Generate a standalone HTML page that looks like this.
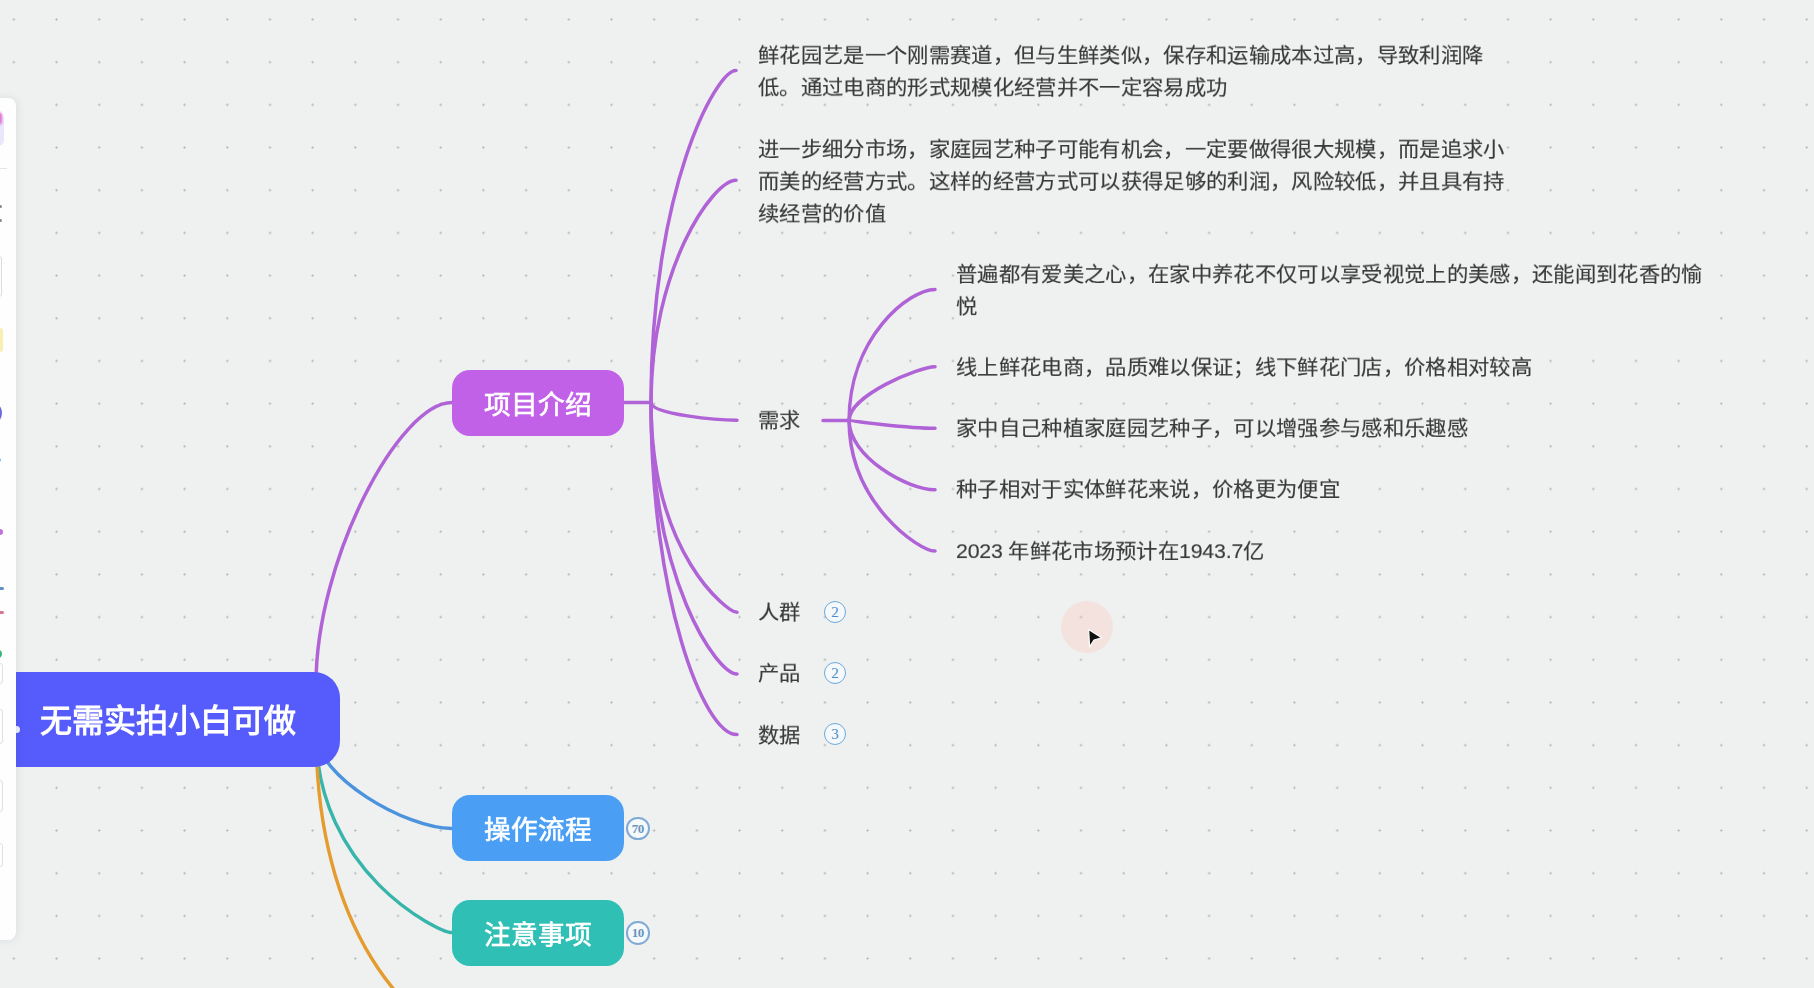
<!DOCTYPE html>
<html lang="zh-CN"><head><meta charset="utf-8">
<style>
html,body{margin:0;padding:0;}
body{width:1814px;height:988px;overflow:hidden;position:relative;background:#eff1f1;font-family:"Liberation Sans",sans-serif;}
#grid{position:absolute;left:0;top:0;width:1814px;height:988px;
 background-image:radial-gradient(circle at center,#b5b8b9 0,#b5b8b9 0.8px,rgba(185,188,189,0) 1.45px);
 background-size:42.7px 42.7px;background-position:-7.5px -1.9px;}
svg{position:absolute;left:0;top:0;}
.t{position:absolute;color:#3a3a3a;font-size:21.33px;line-height:34.78px;letter-spacing:0.33px;white-space:nowrap;background:#eff1f1;will-change:transform;transform:scaleY(0.92);transform-origin:0 0;-webkit-text-stroke:0.15px #3a3a3a;}
.node{position:absolute;color:#fff;text-align:center;white-space:nowrap;will-change:transform;}
.badge{position:absolute;width:20px;height:20px;border:1.8px solid #6ea8db;border-radius:50%;background:#f5f9fc;color:#4a8cc6;font-size:15px;line-height:20px;font-family:'Liberation Serif',serif;text-align:center;box-sizing:content-box;}
#tb{position:absolute;left:-20px;top:98px;width:36px;height:842px;background:#fdfefd;border-radius:8px;box-shadow:1px 0 9px rgba(40,50,70,0.10);}
</style></head>
<body>
<div id="grid"></div>
<svg width="1814" height="988" viewBox="0 0 1814 988" fill="none" stroke-linecap="round">
 <g stroke="#b063d6" stroke-width="3.5">
  <path d="M316 684 C316 560.1 399 402.5 452 402.5"/>
  <path d="M622 402.5 L651 402.5"/>
  <path d="M651 402.5 C651 189.3 716 70.5 736 70.5"/>
  <path d="M651 402.5 C651 268.9 712.7 180.3 736 180.3"/>
  <path d="M651 402.5 C651 414.6 719.6 420.2 737 420.2"/>
  <path d="M651 402.5 C651 554.7 728 612.3 737 612.3"/>
  <path d="M651 402.5 C651 580.7 716.9 673.9 737 673.9"/>
  <path d="M651 402.5 C651 595.2 702.8 734.6 737 734.6"/>
  <path d="M823 420.5 L849.1 420.5"/>
  <path d="M849.1 420.5 C849.1 336.5 909.7 289.4 935 289.4"/>
  <path d="M849.1 420.5 C849.1 395 919.3 366.8 935 366.8"/>
  <path d="M849.1 420.5 C849.1 420.6 907.5 428.3 935 428.3"/>
  <path d="M849.1 420.5 C849.1 456.9 907.5 489.7 935 489.7"/>
  <path d="M849.1 420.5 C849.1 503.5 919.3 551.1 935 551.1"/>
 </g>
 <path d="M316 733 C316 776.6 405.8 828.5 452 828.5" stroke="#4b93dc" stroke-width="3.4"/>
 <path d="M316 732 C316 872.4 438.4 932.5 452 932.5" stroke="#38b5ab" stroke-width="3.4"/>
 <path d="M316 731 C316 960.2 437.4 1035 452 1035" stroke="#e59c2e" stroke-width="3.4"/>
</svg>

<!-- root -->
<div class="node" style="left:-30px;top:672px;width:370px;height:95px;background:#555cfb;border-radius:26px;"></div>
<div class="node" style="left:40px;top:674px;height:95px;line-height:95px;font-size:32px;font-weight:bold;text-align:left;">无需实拍小白可做</div>

<div class="node" style="left:452px;top:370px;width:172px;height:66px;line-height:70px;-webkit-text-stroke:0.6px #fff;background:#c061e8;border-radius:18px;font-size:26.67px;">项目介绍</div>
<div class="node" style="left:452px;top:795px;width:172px;height:66px;line-height:70px;-webkit-text-stroke:0.6px #fff;background:#4a9ff5;border-radius:18px;font-size:26.67px;">操作流程</div>
<div class="node" style="left:452px;top:900px;width:172px;height:66px;line-height:70px;-webkit-text-stroke:0.6px #fff;background:#30bfb4;border-radius:18px;font-size:26.67px;">注意事项</div>
<div class="badge" style="left:626px;top:816.5px;font-size:13px;font-weight:bold;letter-spacing:-0.5px;color:#6a94bc;border:2px solid #80aad4;width:19.6px;height:19.6px;line-height:19.6px;">70</div>
<div class="badge" style="left:626px;top:921px;font-size:13px;font-weight:bold;letter-spacing:-0.5px;color:#6a94bc;border:2px solid #80aad4;width:19.6px;height:19.6px;line-height:19.6px;">10</div>

<div class="t" style="left:758px;top:39.5px;height:66.3px;">鲜花园艺是一个刚需赛道，但与生鲜类似，保存和运输成本过高，导致利润降<br>低。通过电商的形式规模化经营并不一定容易成功</div>
<div class="t" style="left:758px;top:133.5px;height:101.1px;">进一步细分市场，家庭园艺种子可能有机会，一定要做得很大规模，而是追求小<br>而美的经营方式。这样的经营方式可以获得足够的利润，风险较低，并且具有持<br>续经营的价值</div>
<div class="t" style="left:758px;top:404.5px;height:31.5px;">需求</div>
<div class="t" style="left:758px;top:596.5px;height:31.5px;">人群</div>
<div class="t" style="left:758px;top:657.5px;height:31.5px;">产品</div>
<div class="t" style="left:758px;top:719.5px;height:31.5px;">数据</div>
<div class="badge" style="left:824px;top:600.5px;">2</div>
<div class="badge" style="left:824px;top:661.5px;">2</div>
<div class="badge" style="left:824px;top:723px;">3</div>

<div class="t" style="left:956px;top:258.5px;height:66.3px;">普遍都有爱美之心，在家中养花不仅可以享受视觉上的美感，还能闻到花香的愉<br>悦</div>
<div class="t" style="left:956px;top:351.5px;height:31.5px;">线上鲜花电商，品质难以保证；线下鲜花门店，价格相对较高</div>
<div class="t" style="left:956px;top:412.5px;height:31.5px;">家中自己种植家庭园艺种子，可以增强参与感和乐趣感</div>
<div class="t" style="left:956px;top:473.5px;height:31.5px;">种子相对于实体鲜花来说，价格更为便宜</div>
<div class="t" style="left:956px;top:535.5px;height:31.5px;"><span style="letter-spacing:-0.2px">2023 </span>年鲜花市场预计在<span style="letter-spacing:-0.2px">1943.7</span>亿</div>

<!-- cursor -->
<div style="position:absolute;left:1061px;top:601px;width:52px;height:52px;border-radius:50%;background:rgba(255,185,170,0.26);"></div>
<svg width="1814" height="988" style="position:absolute;left:0;top:0;">
 <path d="M1088.6 629.6 L1101.7 637.7 L1094 640 L1089.6 646.8 Z" fill="#111" stroke="#fff" stroke-width="1.2" stroke-linejoin="round"/>
</svg>

<!-- left toolbar -->
<div style="position:absolute;left:12.5px;top:726px;width:7px;height:7px;border-radius:50%;background:#eef0fc;"></div>
<div id="tb"></div>
<div style="position:absolute;left:-30px;top:113px;width:33.5px;height:33px;border-radius:6px;background:#ebe6fa;"></div>
<div style="position:absolute;left:-6px;top:112px;width:8px;height:13px;border-radius:4px;background:#e071d6;filter:blur(1px);"></div>
<div style="position:absolute;left:0;top:168px;width:7px;height:1px;background:#e6e6e6;"></div>
<div style="position:absolute;left:-3px;top:205px;width:5px;height:3px;border-radius:2px;background:#8a8a8f;"></div>
<div style="position:absolute;left:-3px;top:218.5px;width:5px;height:3px;border-radius:2px;background:#8a8a8f;"></div>
<div style="position:absolute;left:-20px;top:256px;width:20px;height:39px;border:1.5px solid #dcdcdc;border-radius:3px;"></div>
<div style="position:absolute;left:-20px;top:328px;width:23px;height:24px;border-radius:3px;background:#f9efb4;"></div>
<div style="position:absolute;left:-8px;top:405px;width:10px;height:16px;border-radius:50%;background:#7169d9;"></div>
<div style="position:absolute;left:-3px;top:458px;width:4px;height:4px;border-radius:50%;background:#6fc6ea;"></div>
<div style="position:absolute;left:-4px;top:529px;width:7px;height:6px;border-radius:50%;background:#c36de0;"></div>
<div style="position:absolute;left:-4px;top:587px;width:8px;height:3px;border-radius:2px;background:#6191c2;"></div>
<div style="position:absolute;left:-4px;top:611px;width:8px;height:3px;border-radius:2px;background:#d9778f;"></div>
<div style="position:absolute;left:-5px;top:650px;width:7px;height:8px;border-radius:50%;background:#33b679;"></div>
<div style="position:absolute;left:-20px;top:663px;width:21px;height:19px;border:1.5px solid #e0e0e0;border-radius:3px;"></div>
<div style="position:absolute;left:-20px;top:709px;width:21px;height:33px;border:1.5px solid #e0e0e0;border-radius:3px;"></div>
<div style="position:absolute;left:-20px;top:780px;width:21px;height:30px;border:1.5px solid #e0e0e0;border-radius:3px;"></div>
<div style="position:absolute;left:-20px;top:843px;width:21px;height:22px;border:1.5px solid #e0e0e0;border-radius:3px;"></div>
</body></html>
